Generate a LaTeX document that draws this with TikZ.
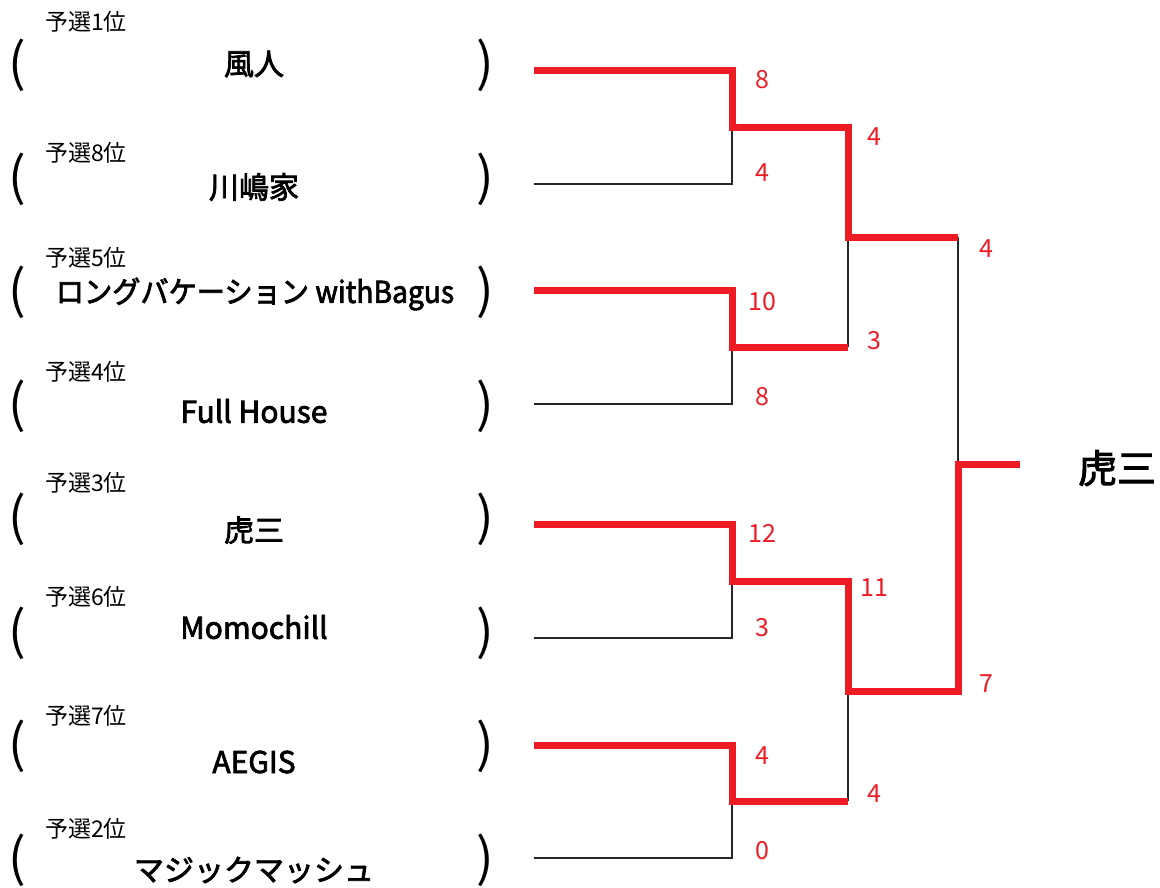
\documentclass[tikz,border=0pt]{standalone}
\usepackage{graphicx}
\usepackage{fontspec}
\setmainfont{Noto Sans CJK JP}
\newfontfamily\namefont{Noto Sans CJK JP}[FakeBold=2.5]
\definecolor{bred}{HTML}{ED1C24}
\begin{document}
\begin{tikzpicture}[x=1pt,y=-1pt,
  team/.style={font=\namefont\fontsize{30}{30}\selectfont, inner sep=0pt},
  seed/.style={font=\fontsize{23}{23}\selectfont, inner sep=0pt},
  score/.style={font=\fontsize{25}{25}\selectfont, text=bred, inner sep=0pt},
  paren/.style={font=\fontsize{52}{52}\selectfont, inner sep=0pt},
  champ/.style={font=\namefont\fontsize{39}{39}\selectfont, inner sep=0pt},
  winline/.style={draw=bred, line width=7pt, line join=miter},
  loseline/.style={draw=black!85, line width=2pt}]
\useasboundingbox (0,0) rectangle (1160,887);

% rows
\foreach \i/\ly/\ny/\py/\lab in {1/22/64/65/予選1位, 2/153/187/179/予選8位, 3/258/294/292/予選5位, 4/372/411/406/予選4位, 5/483/530/519/予選3位, 6/597/627/633/予選6位, 7/716/762/746/予選7位, 8/829/870/860/予選2位}{
  \node[seed] (seed\i) at (86,\ly) {\lab};
  \node[paren] (lp\i) at (17,\py) {(};
  \node[paren] (rp\i) at (485,\py) {)};
}
\node[team] (n1) at (254,64) {風人};
\node[team] (n2) at (254,187) {川嶋家};
\node[team] (n3) at (255,294) {\scalebox{0.94}[1]{ロングバケーション withBagus}};
\node[team] (n4) at (254,411) {Full House};
\node[team] (n5) at (254,530) {虎三};
\node[team] (n6) at (254,627) {Momochill};
\node[team] (n7) at (254,762) {AEGIS};
\node[team] (n8) at (254,870) {マジックマッシュ};

% bracket coordinates
\coordinate (s1) at (534,70);
\coordinate (s2) at (534,184);
\coordinate (s3) at (534,290);
\coordinate (s4) at (534,404);
\coordinate (s5) at (534,524);
\coordinate (s6) at (534,638);
\coordinate (s7) at (534,745);
\coordinate (s8) at (534,858);
\coordinate (m1) at (732,127);
\coordinate (m2) at (732,347);
\coordinate (m3) at (732,581);
\coordinate (m4) at (732,801);
\coordinate (q1) at (848,127);
\coordinate (q2) at (848,347);
\coordinate (q3) at (848,581);
\coordinate (q4) at (848,801);
\coordinate (u1) at (848,237);
\coordinate (u2) at (848,691);
\coordinate (v1) at (958,237);
\coordinate (v2) at (958,691);
\coordinate (f) at (958,464);
\coordinate (e) at (1020,464);

% losing lines
\draw[loseline] (s2) -| (m1);
\draw[loseline] (s4) -| (m2);
\draw[loseline] (s6) -| (m3);
\draw[loseline] (s8) -| (m4);
\draw[loseline] (q2) -- (u1);
\draw[loseline] (q4) -- (u2);
\draw[loseline] (v1) -- (f);

% winning lines
\draw[winline] (s1) -| (m1) -- (q1) -- (u1) -- (v1);
\draw[winline] (s3) -| (m2) -- (q2);
\draw[winline] (s5) -| (m3) -- (q3) -- (u2) -- (v2) -- (f) -- (e);
\draw[winline] (s7) -| (m4) -- (q4);

% scores
\node[score] (sc1) at (762,80) {8};
\node[score] (sc2) at (762,173) {4};
\node[score] (sc3) at (762,302) {10};
\node[score] (sc4) at (762,397) {8};
\node[score] (sc5) at (762,533) {12};
\node[score] (sc6) at (762,628) {3};
\node[score] (sc7) at (762,756) {4};
\node[score] (sc8) at (762,851) {0};
\node[score] (sd1) at (874,137) {4};
\node[score] (sd2) at (874,341) {3};
\node[score] (sd3) at (874,588) {11};
\node[score] (sd4) at (874,794) {4};
\node[score] (se1) at (986,249) {4};
\node[score] (se2) at (986,684) {7};

\node[champ] (winner) at (1117,468) {虎三};
\end{tikzpicture}
\end{document}
